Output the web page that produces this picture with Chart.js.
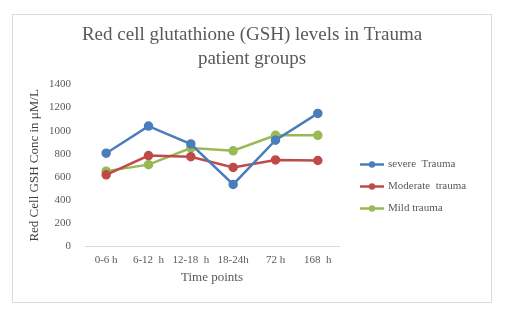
<!DOCTYPE html>
<html>
<head>
<meta charset="utf-8">
<script src="https://cdn.jsdelivr.net/npm/chart.js@4"></script>
<style>
  html, body { margin: 0; padding: 0; background: #fff; }
  #box { position: absolute; left: 12px; top: 14px; width: 478px; height: 287px; border: 1px solid #d9d9d9; }
  canvas { display: block; }
</style>
</head>
<body>
<div id="box"><canvas id="chart" width="478" height="287"></canvas></div>
<script>
// данные с картинки
const timePoints = ['0-6 h', '6-12  h', '12-18  h', '18-24h', '72 h', '168  h'];
const severe = [805, 1040, 885, 535, 918, 1150];
const moderate = [618, 785, 775, 682, 747, 742];
const mild = [650, 706, 850, 826, 960, 960];
const yTicks = [0, 200, 400, 600, 800, 1000, 1200, 1400];

const serif = '"Liberation Serif", "Times New Roman", serif';

// легенда справа: линия с точкой, как в Excel
const sideLegend = {
    id: 'sideLegend',
    afterDraw(chart) {
        const ctx = chart.ctx;
        const area = chart.chartArea;
        ctx.save();
        chart.data.datasets.forEach(function(ds, i) {
            const x = area.right + 21;
            const y = area.top + 80 + i * 22;
            ctx.strokeStyle = ds.borderColor;
            ctx.lineWidth = 2.5;
            ctx.beginPath();
            ctx.moveTo(x, y);
            ctx.lineTo(x + 24, y);
            ctx.stroke();
            ctx.fillStyle = ds.borderColor;
            ctx.beginPath();
            ctx.arc(x + 12, y, 3.2, 0, Math.PI * 2);
            ctx.fill();
            ctx.fillStyle = '#595959';
            ctx.font = '11px ' + serif;
            ctx.textBaseline = 'middle';
            ctx.fillText(ds.label, x + 28, y);
        });
        ctx.restore();
    }
};

function makeSet(label, data, color) {
    return {
        label: label,
        data: data,
        borderColor: color,
        backgroundColor: color,
        borderWidth: 2.5,
        pointRadius: 3.5,
        pointHoverRadius: 3.5,
        tension: 0
    };
}

new Chart(document.getElementById('chart'), {
    type: 'line',
    data: {
        labels: timePoints,
        datasets: [
            makeSet('severe  Trauma', severe, '#4a7ebb'),
            makeSet('Moderate  trauma', moderate, '#be4b48'),
            makeSet('Mild trauma', mild, '#98b954')
        ]
    },
    plugins: [sideLegend],
    options: {
        responsive: false,
        animation: false,
        layout: { padding: { left: 0, right: 0, top: 4, bottom: 17 } },
        plugins: {
            legend: { display: false },
            tooltip: { enabled: false },
            title: {
                display: true,
                text: ['Red cell glutathione (GSH) levels in Trauma', 'patient groups'],
                color: '#595959',
                font: { family: serif, size: 19, weight: 'normal', lineHeight: 1.25 },
                padding: { top: 4, bottom: 14 }
            }
        },
        scales: {
            x: {
                offset: true,
                grid: { display: false, drawTicks: false },
                border: { display: true, color: '#d9d9d9', width: 1 },
                ticks: { color: '#595959', font: { family: serif, size: 11 }, padding: 7, maxRotation: 0, autoSkip: false },
                title: { display: true, text: 'Time points', color: '#595959', font: { family: serif, size: 13 }, padding: { top: -4, bottom: 0 } }
            },
            y: {
                min: 0,
                max: 1400,
                afterBuildTicks(scale) {
                    scale.ticks = yTicks.map(function(v) { return { value: v }; });
                },
                afterFit(scale) { scale.width = 72; },
                grid: { display: false, drawTicks: false },
                border: { display: false },
                ticks: { color: '#595959', font: { family: serif, size: 11 }, padding: 14, callback: function(v) { return String(v); } },
                title: { display: true, text: 'Red Cell GSH Conc in μM/L', color: '#404040', font: { family: serif, size: 13 }, padding: { top: 14, bottom: 0 } }
            },
            // пустая ось справа — место под легенду
            spacer: {
                type: 'linear',
                position: 'right',
                grid: { display: false, drawTicks: false },
                border: { display: false },
                ticks: { display: false },
                afterFit(scale) { scale.width = 152; }
            }
        }
    }
});
</script>
</body>
</html>
